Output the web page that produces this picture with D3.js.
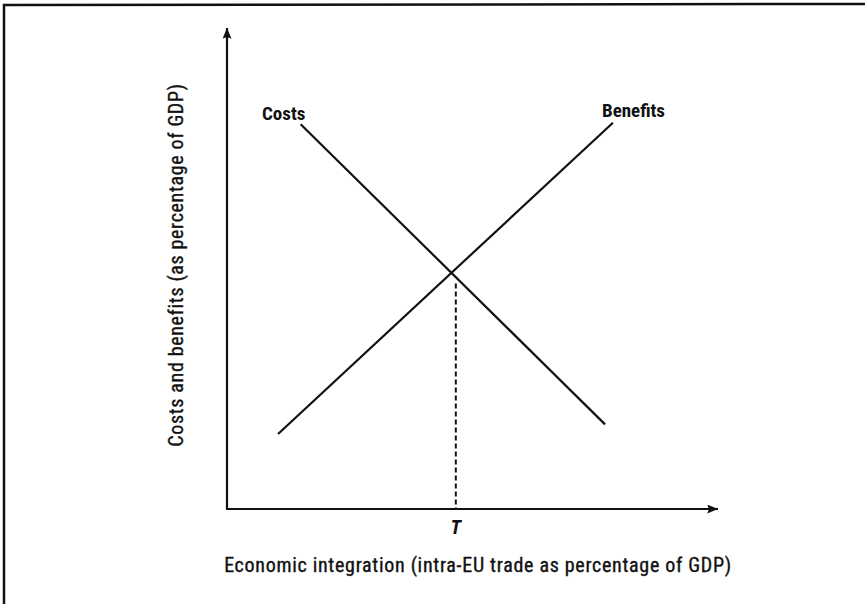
<!DOCTYPE html>
<html>
<head>
<meta charset="utf-8">
<script src="https://cdn.jsdelivr.net/npm/d3@7"></script>
<style>
  body { margin: 0; background: #fff; }
  text { font-family: "Roboto Condensed", "Liberation Sans", sans-serif; fill: #111; }
  .aText { stroke: #111; stroke-width: 0.35; }
</style>
</head>
<body>
<div id="chart"></div>
<script>
// schematic values (0-100 scale on both axes)
var costsX = [15, 77];
var costsY = [80, 17.6];
var benefitsX = [10.4, 78.6];
var benefitsY = [15.6, 80.3];
var tX = 46.6;
var tY = 46.9;
var seriesNames = ["Costs", "Benefits"];

var width = 865;
var height = 604;

var svg = d3.select("#chart")
  .append("svg")
  .attr("width", width)
  .attr("height", height);

// frame round the figure
svg.append("path")
  .attr("d", "M4,604 L4,5 L865,4")
  .attr("fill", "none")
  .attr("stroke", "#111")
  .attr("stroke-width", 2.5);

var xScale = d3.scaleLinear().domain([0, 100]).range([227, 718]);
var yScale = d3.scaleLinear().domain([0, 100]).range([509, 28]);

// arrow head
var defs = svg.append("defs");
defs.append("marker")
  .attr("id", "arrow")
  .attr("viewBox", "0 0 12 10")
  .attr("refX", 12)
  .attr("refY", 5)
  .attr("markerWidth", 12)
  .attr("markerHeight", 9)
  .attr("markerUnits", "userSpaceOnUse")
  .attr("orient", "auto")
  .append("path")
  .attr("d", "M0,0 L12,5 L0,10 L2,5 Z")
  .attr("fill", "#111");

// axes
svg.append("line")
  .attr("x1", xScale(0) - 1).attr("y1", yScale(0))
  .attr("x2", xScale(100)).attr("y2", yScale(0))
  .attr("stroke", "#111").attr("stroke-width", 2)
  .attr("marker-end", "url(#arrow)");

svg.append("line")
  .attr("x1", xScale(0)).attr("y1", yScale(0) + 1)
  .attr("x2", xScale(0)).attr("y2", yScale(100))
  .attr("stroke", "#111").attr("stroke-width", 2.2)
  .attr("marker-end", "url(#arrow)");

// the two lines
var line = d3.line()
  .x(function(d) { return xScale(d[0]); })
  .y(function(d) { return yScale(d[1]); });

var costs = d3.zip(costsX, costsY);
var benefits = d3.zip(benefitsX, benefitsY);

svg.append("path")
  .datum(costs)
  .attr("d", line)
  .attr("fill", "none")
  .attr("stroke", "#111")
  .attr("stroke-width", 2.2);

svg.append("path")
  .datum(benefits)
  .attr("d", line)
  .attr("fill", "none")
  .attr("stroke", "#111")
  .attr("stroke-width", 2.2);

// dashed drop line at T
svg.append("line")
  .attr("x1", xScale(tX)).attr("y1", yScale(tY))
  .attr("x2", xScale(tX)).attr("y2", yScale(0))
  .attr("stroke", "#111")
  .attr("stroke-width", 2)
  .attr("stroke-dasharray", "5,3");

// series labels
svg.append("text")
  .attr("x", 262)
  .attr("y", 120)
  .attr("font-size", 19)
  .attr("font-weight", "bold")
  .text(seriesNames[0]);

svg.append("text")
  .attr("x", 602)
  .attr("y", 117)
  .attr("font-size", 19)
  .attr("font-weight", "bold")
  .text(seriesNames[1]);

// T label
svg.append("text")
  .attr("x", xScale(tX))
  .attr("y", 534)
  .attr("text-anchor", "middle")
  .attr("font-size", 20)
  .attr("font-weight", "bold")
  .attr("font-style", "italic")
  .text("T");

// axis titles
svg.append("text")
  .attr("class", "aText")
  .attr("x", 478)
  .attr("y", 572)
  .attr("text-anchor", "middle")
  .attr("font-size", 20)
  .attr("letter-spacing", 0.7)
  .text("Economic integration (intra-EU trade as percentage of GDP)");

svg.append("text")
  .attr("class", "aText")
  .attr("transform", "translate(183,265) rotate(-90)")
  .attr("text-anchor", "middle")
  .attr("font-size", 20)
  .attr("letter-spacing", 0.65)
  .text("Costs and benefits (as percentage of GDP)");
</script>
</body>
</html>
